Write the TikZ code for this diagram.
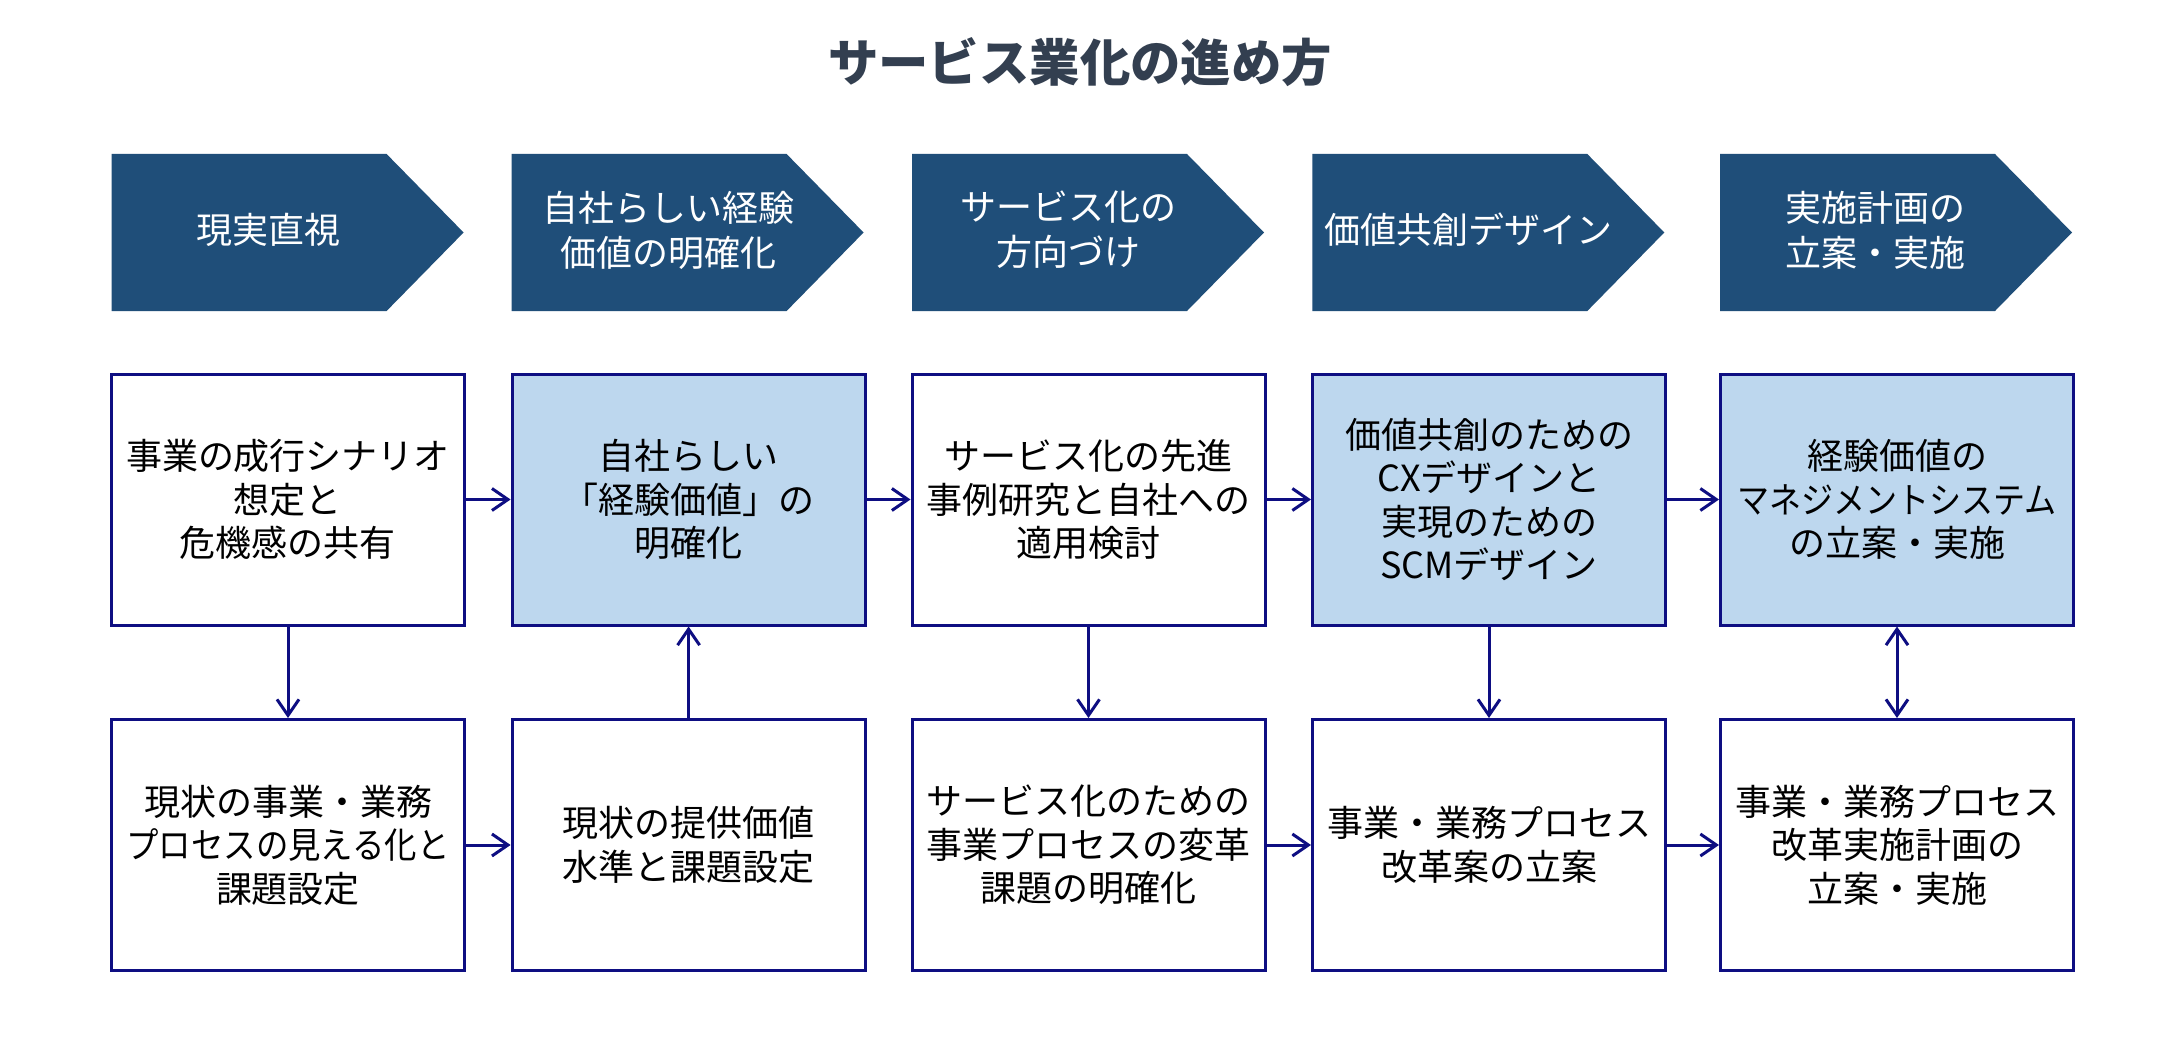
\documentclass[tikz,border=0pt]{standalone}
\usepackage{fontspec}
\usepackage{graphicx}
\setmainfont{Noto Sans CJK JP}
\usetikzlibrary{arrows.meta}
\definecolor{chevc}{HTML}{1F4E79}
\definecolor{lightb}{HTML}{BDD7EE}
\definecolor{navyl}{HTML}{0E0E82}
\definecolor{titlec}{HTML}{333F50}
\newcommand{\narrowline}[2]{\scalebox{#1}[1]{#2}}
\begin{document}
\begin{tikzpicture}[x=0.5pt,y=-0.5pt,
 box/.style={draw=navyl, line width=1.5pt, fill=white, minimum width=176.5pt, minimum height=125.5pt, inner sep=0pt, align=center, font=\fontsize{18}{21.75}\selectfont, text=black},
 hbox/.style={box, fill=lightb},
 chevfill/.style={fill=chevc},
 chevtext/.style={text=white, align=center, font=\fontsize{18}{22.5}\selectfont},
 conn/.style={draw=navyl, line width=1.5pt, -{Straight Barb[length=8pt,width=11pt]}},
 conn2/.style={draw=navyl, line width=1.5pt, {Straight Barb[length=8pt,width=11pt]}-{Straight Barb[length=8pt,width=11pt]}},
]
\fill[white] (0,0) rectangle (2160,1054);
\useasboundingbox (0,0) rectangle (2160,1054);

\node[text=titlec, font=\fontsize{25.2}{30}\selectfont\bfseries] (title) at (1080,62) {サービス業化の進め方};

\foreach \L in {111.6,511.6,912,1312.3,1720}
  \fill[chevfill] (\L,154) -- (\L+275,154) -- (\L+352,232.5) -- (\L+275,311) -- (\L,311) -- cycle;

\node[chevtext] (c1) at (268.6,230) {現実直視};
\node[chevtext] (c2) at (668.6,230) {自社らしい経験\\価値の明確化};
\node[chevtext] (c3) at (1068,230) {サービス化の\\方向づけ};
\node[chevtext] (c4) at (1468.4,230) {価値共創デザイン};
\node[chevtext] (c5) at (1875.5,230) {実施計画の\\立案・実施};

\node[box]  (t1) at (288,499.5)    {事業の成行シナリオ\\想定と\\危機感の共有};
\node[hbox] (t2) at (688.6,499.5)  {自社らしい\\「経験価値」の\\明確化};
\node[box]  (t3) at (1088.5,499.5) {サービス化の先進\\事例研究と自社への\\適用検討};
\node[hbox] (t4) at (1489,499.5)   {価値共創のための\\CXデザインと\\実現のための\\SCMデザイン};
\node[hbox] (t5) at (1897,499.5)   {経験価値の\\\narrowline{0.89}{マネジメントシステム}\\の立案・実施};

\node[box] (b1) at (288,845)    {現状の事業・業務\\\narrowline{0.9}{プロセスの見える化と}\\課題設定};
\node[box] (b2) at (688.6,845)  {現状の提供価値\\水準と課題設定};
\node[box] (b3) at (1088.5,845) {サービス化のための\\事業プロセスの変革\\課題の明確化};
\node[box] (b4) at (1489,845)   {事業・業務プロセス\\改革案の立案};
\node[box] (b5) at (1897,845)   {事業・業務プロセス\\改革実施計画の\\立案・実施};

\draw[conn] (t1) -- (t2);
\draw[conn] (t2) -- (t3);
\draw[conn] (t3) -- (t4);
\draw[conn] (t4) -- (t5);
\draw[conn] (b1) -- (b2);
\draw[conn] (b3) -- (b4);
\draw[conn] (b4) -- (b5);
\draw[conn] (t1) -- (b1);
\draw[conn] (b2) -- (t2);
\draw[conn] (t3) -- (b3);
\draw[conn] (t4) -- (b4);
\draw[conn2] (t5) -- (b5);
\end{tikzpicture}
\end{document}
